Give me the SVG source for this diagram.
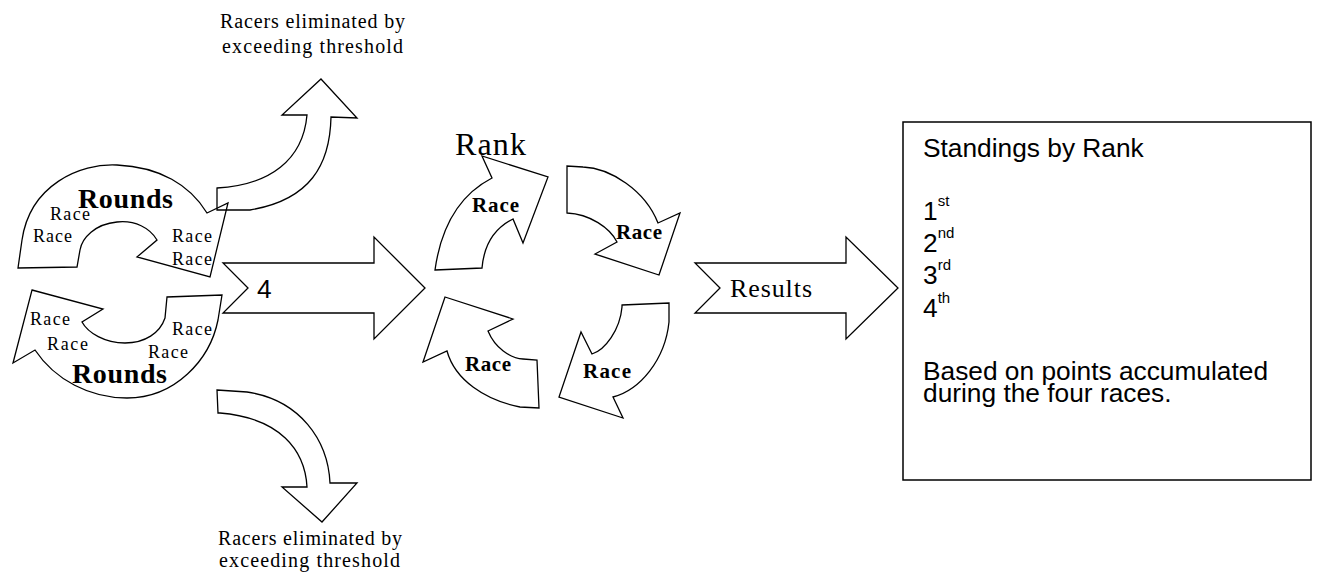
<svg xmlns="http://www.w3.org/2000/svg" width="1318" height="576" viewBox="0 0 1318 576">
<style>
.sh{fill:#fff;stroke:#000;stroke-width:1.3;stroke-linejoin:miter}
.open{fill:none}
.ser{font-family:"Liberation Serif","Times New Roman",serif;fill:#000}
.race{font-size:18px}
.rb{font-size:21px;font-weight:bold}
.rounds{font-size:28px;font-weight:bold}
.elim{font-size:20px}
.sans{font-family:"Liberation Sans",Arial,sans-serif;fill:#000}
.big{font-size:26.3px}
.sup{font-size:15px}
</style>
<rect width="1318" height="576" fill="#fff"/>
<g id="rounds-top">
<path class="sh" d="M18,268 L22,240 C30,185 80,163 117,165 C160,167 190,185 207,213 L228,203 L210,277 L137,257 L157,240 C150,228 135,220 117,222 C95,224 82,238 80,250 L77,267 Z"/>
<text class="ser rounds" x="78" y="208" textLength="95">Rounds</text>
<text class="ser race" x="50" y="220" textLength="40">Race</text>
<text class="ser race" x="33" y="242" textLength="39">Race</text>
<text class="ser race" x="172" y="242" textLength="40">Race</text>
<text class="ser race" x="172" y="265" textLength="40">Race</text>
</g>
<g id="rounds-bottom">
<path class="sh" d="M32,290 L103,309 L82,322 C88,333 105,343 125,343 C145,343 160,333 165,318 L167,297 L222,295 L218,320 C210,360 175,398 127,398 C90,398 55,380 35,350 L13,363 Z"/>
<text class="ser race" x="30" y="325" textLength="40">Race</text>
<text class="ser race" x="47" y="350" textLength="41">Race</text>
<text class="ser race" x="172" y="335" textLength="40">Race</text>
<text class="ser race" x="148" y="358" textLength="40">Race</text>
<text class="ser rounds" x="72" y="383" textLength="95">Rounds</text>
</g>
<g id="connectors">
<g id="elim-top">
<path class="sh open" d="M321,79 L357,118 L331,117 C330,165 310,200 250,210 L217,210 L217,188 C270,185 303,160 307,115 L282,115 Z"/>
<text class="ser elim" x="220" y="28" textLength="185">Racers eliminated by</text>
<text class="ser elim" x="222" y="53" textLength="181">exceeding threshold</text>
</g>
<g id="elim-bottom">
<path class="sh" d="M217,390 L247,392 C300,400 328,440 330,483 L357,483 L322,522 L282,487 L307,487 C305,450 280,418 220,413 L218,413 Z"/>
<text class="ser elim" x="218" y="545" textLength="184">Racers eliminated by</text>
<text class="ser elim" x="219" y="567" textLength="181">exceeding threshold</text>
</g>
<g id="arrow-4">
<path class="sh" d="M223,263 L374,263 L374,237 L425,288 L374,339 L374,313 L223,313 L248,288 Z"/>
<text class="sans big" x="257" y="298">4</text>
</g>
<g id="arrow-results">
<path class="sh" d="M695,263 L846,263 L846,237 L898,288 L846,339 L846,313 L695,313 L720,288 Z"/>
<text class="ser" font-size="26" x="730" y="297" textLength="82">Results</text>
</g>
</g>
<g id="rank">
<text class="ser" font-size="32" x="455" y="155" textLength="71">Rank</text>
</g>
<g id="race-1">
<path class="sh" d="M435,270 L482,268 C484,245 495,228 513,219 L523,243 L548,177 L482,156 L492,178 C465,192 442,220 435,270 Z"/>
<text class="ser rb" x="472" y="212" textLength="47">Race</text>
</g>
<g id="race-2">
<path class="sh" d="M567,166 L567,213 C590,214 610,228 617,242 L595,254 L659,275 L680,213 L658,223 C645,190 610,168 583,167 Z"/>
<text class="ser rb" x="616" y="239" textLength="46">Race</text>
</g>
<g id="race-3">
<path class="sh" d="M445,297 L513,319 L488,331 C495,348 510,358 523,359 L537,360 L539,408 L520,407 C485,400 455,380 447,351 L423,362 Z"/>
<text class="ser rb" x="465" y="371" textLength="46">Race</text>
</g>
<g id="race-4">
<path class="sh" d="M622,305 L669,303 L669,322 C665,360 640,390 613,397 L623,418 L559,397 L581,332 L592,354 C605,350 620,330 622,307 Z"/>
<text class="ser rb" x="583" y="378" textLength="48">Race</text>
</g>
<g id="standings">
<rect x="903" y="122" width="408" height="358" fill="#fff" stroke="#000" stroke-width="1.5"/>
<text class="sans big" x="923" y="157">Standings by Rank</text>
<text class="sans big" x="923" y="220">1<tspan class="sup" dy="-14">st</tspan></text>
<text class="sans big" x="923" y="252">2<tspan class="sup" dy="-14">nd</tspan></text>
<text class="sans big" x="923" y="284">3<tspan class="sup" dy="-14">rd</tspan></text>
<text class="sans big" x="923" y="317">4<tspan class="sup" dy="-14">th</tspan></text>
<text class="sans big" x="923" y="380">Based on points accumulated</text>
<text class="sans big" x="923" y="402">during the four races.</text>
</g>
</svg>
